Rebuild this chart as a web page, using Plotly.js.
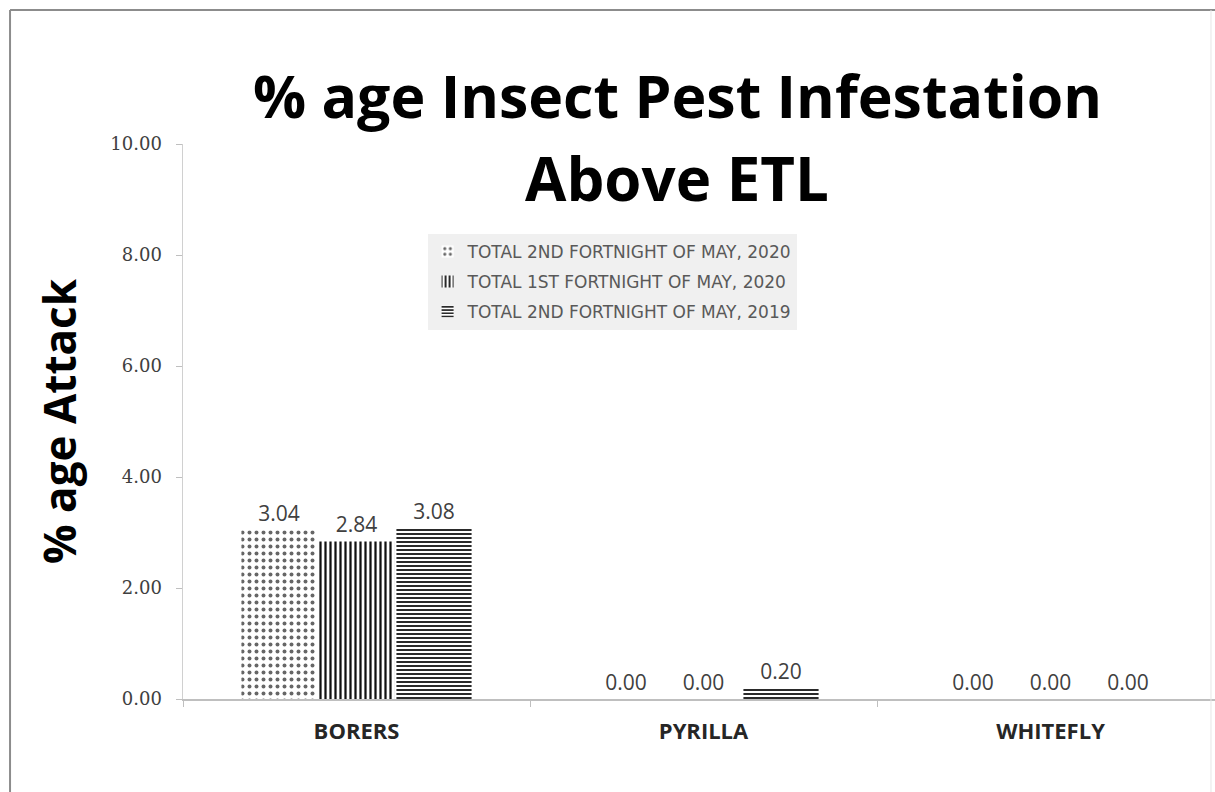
<!DOCTYPE html>
<html>
<head>
<meta charset="utf-8">
<script src="https://cdn.plot.ly/plotly-3.0.1.min.js"></script>
<style>
  html, body { margin: 0; padding: 0; background: #fff; }
  #chart { width: 1215px; height: 792px; }
</style>
</head>
<body>
<div id="chart"></div>
<script>
const categories = ["BORERS", "PYRILLA", "WHITEFLY"];
const seriesNames = [
  "TOTAL 2ND FORTNIGHT OF MAY, 2020",
  "TOTAL 1ST FORTNIGHT OF MAY, 2020",
  "TOTAL 2ND FORTNIGHT OF MAY, 2019"
];
const may2020Second = [3.04, 0.00, 0.00];
const may2020First = [2.84, 0.00, 0.00];
const may2019Second = [3.08, 0.20, 0.00];
const yTickValues = [0, 2, 4, 6, 8, 10];

const patterns = [
  {shape: ".", fgcolor: "#666666", bgcolor: "#ffffff", size: 7, solidity: 0.25},
  {shape: "|", fgcolor: "#111111", bgcolor: "#ffffff", size: 5, solidity: 0.45},
  {shape: "-", fgcolor: "#111111", bgcolor: "#ffffff", size: 4, solidity: 0.45}
];
const values = [may2020Second, may2020First, may2019Second];

const traces = values.map((v, i) => ({
  type: "bar",
  name: seriesNames[i],
  legendgroup: "g" + i,
  x: categories,
  y: v,
  marker: {color: "#ffffff", pattern: patterns[i], line: {width: 0}},
  texttemplate: "%{y:.2f}",
  textposition: "outside",
  cliponaxis: false,
  textfont: {family: "Open Sans, sans-serif", size: 21, color: "#404040"},
  hoverinfo: "skip"
}));

const layout = {
  width: 1215,
  height: 792,
  margin: {l: 183, r: 0, t: 144, b: 93},
  paper_bgcolor: "#ffffff",
  plot_bgcolor: "#ffffff",
  barmode: "group",
  bargap: 0.33,
  bargroupgap: 0.03,
  showlegend: true,
  legend: {
    x: 0.237, y: 0.838, xanchor: "left", yanchor: "top",
    bgcolor: "#f0f0f0",
    font: {family: "DejaVu Sans, sans-serif", size: 17, color: "#595959"},
    itemwidth: 30,
    tracegroupgap: 5
  },
  xaxis: {
    type: "category",
    range: [-0.5, 2.474],
    showline: true, linecolor: "#bfbfbf", linewidth: 1.5,
    ticks: "outside", tickson: "boundaries", ticklen: 6, tickcolor: "#bfbfbf",
    ticklabelstandoff: 12,
    tickfont: {family: "Open Sans, sans-serif", size: 22, color: "#262626", weight: "bold"},
    showgrid: false, zeroline: false, fixedrange: true
  },
  yaxis: {
    range: [0, 10],
    tickvals: yTickValues,
    tickformat: ".2f",
    showline: true, linecolor: "#d0d0d0", linewidth: 1.5,
    ticks: "outside", ticklen: 6, tickcolor: "#bfbfbf",
    ticklabelstandoff: 10,
    tickfont: {family: "DejaVu Serif, serif", size: 18, color: "#404040"},
    showgrid: false, zeroline: false, fixedrange: true,
    title: {
      text: "% age Attack",
      font: {family: "Open Sans, sans-serif", size: 44, color: "#000000", weight: "bold"},
      standoff: 20
    }
  },
  annotations: [
    {text: "% age Insect Pest Infestation", xref: "paper", yref: "paper", x: 0.479, y: 1.088,
     xanchor: "center", yanchor: "middle", showarrow: false,
     font: {family: "Open Sans, sans-serif", size: 59, color: "#000000", weight: "bold"}},
    {text: "Above ETL", xref: "paper", yref: "paper", x: 0.479, y: 0.939,
     xanchor: "center", yanchor: "middle", showarrow: false,
     font: {family: "Open Sans, sans-serif", size: 60, color: "#000000", weight: "bold"}}
  ],
  shapes: [
    {type: "line", xref: "paper", yref: "paper", x0: -0.1676, x1: 1.0, y0: 1.2414, y1: 1.2414,
     line: {color: "#8c8c8c", width: 2}},
    {type: "line", xref: "paper", yref: "paper", x0: -0.1676, x1: -0.1676, y0: 1.2414, y1: -0.2,
     line: {color: "#8c8c8c", width: 2}},
    {type: "line", xref: "paper", yref: "paper", x0: 0.9961, x1: 0.9961, y0: 1.2414, y1: -0.2,
     line: {color: "#e6e6e6", width: 1}}
  ]
};

Plotly.newPlot("chart", traces, layout, {displayModeBar: false, staticPlot: true});
</script>
</body>
</html>
